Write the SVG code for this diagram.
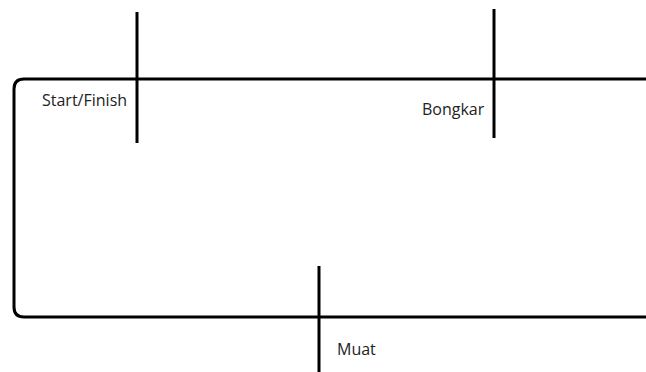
<svg xmlns="http://www.w3.org/2000/svg" width="646" height="372" viewBox="0 0 646 372">
<style>
.ln{fill:none;stroke:#000;stroke-width:3;}
.lb{font-family:"Open Sans","Liberation Sans",sans-serif;font-size:16px;fill:#222;}
</style>
<rect width="646" height="372" fill="#fff"/>
<g id="connectors">
<path class="ln" d="M646 79 H24 Q14 79 14 89 V307 Q14 317 24 317 H646"/>
</g>
<g id="start-finish">
<line class="ln" x1="137" y1="12" x2="137" y2="143"/>
<text class="lb" x="42" y="106">Start/Finish</text>
</g>
<g id="bongkar">
<line class="ln" x1="494" y1="9" x2="494" y2="138"/>
<text class="lb" x="422" y="115">Bongkar</text>
</g>
<g id="muat">
<line class="ln" x1="319" y1="266" x2="319" y2="372"/>
<text class="lb" x="337" y="355">Muat</text>
</g>
</svg>
